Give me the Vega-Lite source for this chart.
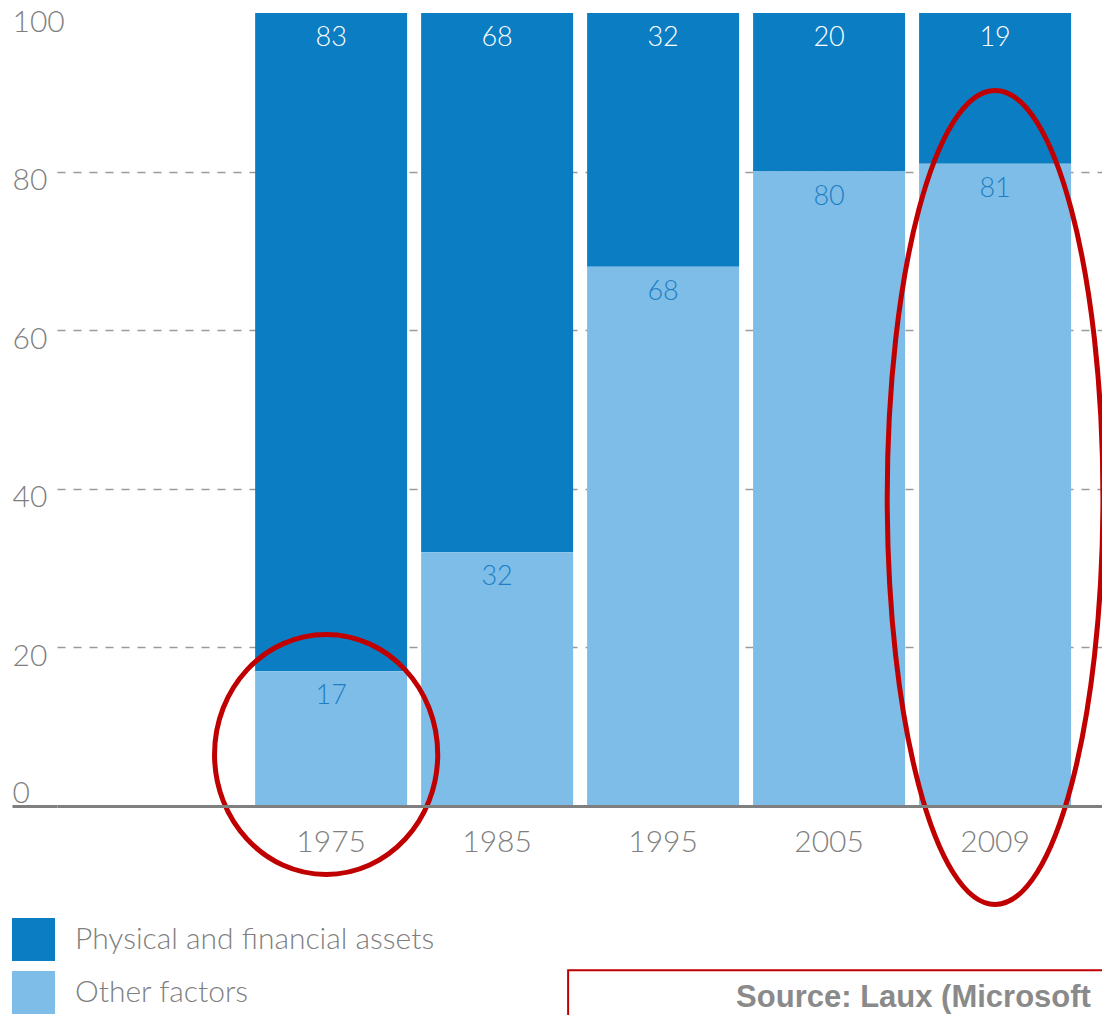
{
  "$schema": "https://vega.github.io/schema/vega-lite/v6.json",
  "autosize": {"type": "none"},
  "width": 1045,
  "height": 793,
  "padding": {"left": 57, "top": 13, "right": 0, "bottom": 209},
  "background": "white",
  "config": {
    "view": {"stroke": null},
    "font": "Lato",
    "legend": {
      "orient": "none",
      "legendX": -45,
      "legendY": 905,
      "padding": 0,
      "symbolType": "square",
      "symbolSize": 1849,
      "symbolStrokeWidth": 0,
      "labelFontSize": 30,
      "labelFont": "Lato",
      "labelFontWeight": 300,
      "labelColor": "#7f7f7f",
      "labelOffset": 20,
      "labelLimit": 0,
      "rowPadding": 10,
      "title": null
    }
  },
  "data": {
    "values": [
      {"year": "1975", "category": "Physical and financial assets", "value": 83},
      {"year": "1975", "category": "Other factors", "value": 17},
      {"year": "1985", "category": "Physical and financial assets", "value": 68},
      {"year": "1985", "category": "Other factors", "value": 32},
      {"year": "1995", "category": "Physical and financial assets", "value": 32},
      {"year": "1995", "category": "Other factors", "value": 68},
      {"year": "2005", "category": "Physical and financial assets", "value": 20},
      {"year": "2005", "category": "Other factors", "value": 80},
      {"year": "2009", "category": "Physical and financial assets", "value": 19},
      {"year": "2009", "category": "Other factors", "value": 81}
    ]
  },
  "layer": [
    {
      "mark": {"type": "bar"},
      "encoding": {
        "x": {
          "field": "year", "type": "nominal",
          "scale": {"domain": ["1975", "1985", "1995", "2005", "2009"], "paddingInner": 0.0843, "paddingOuter": 0.69, "align": 0.865},
          "axis": {
            "title": null, "orient": "bottom", "zindex": 1,
            "domain": true, "domainColor": "#7f7f7f", "domainWidth": 3,
            "ticks": false, "labelPadding": 21, "labelFontSize": 30,
            "labelFont": "Lato", "labelFontWeight": 300, "labelColor": "#7f7f7f", "labelAngle": 0
          }
        },
        "y": {
          "field": "value", "type": "quantitative", "stack": "zero",
          "scale": {"domain": [0, 100], "nice": false},
          "axis": {
            "title": null, "values": [0, 20, 40, 60, 80, 100],
            "domain": false, "zindex": 0,
            "ticks": true, "tickSize": 45, "tickWidth": 3, "tickColor": "#7f7f7f",
            "tickOpacity": {"condition": {"test": "datum.value === 0", "value": 1}, "value": 0},
            "grid": true, "gridDash": [8, 8], "gridColor": "#9a9a9a", "gridWidth": 1.5,
            "gridOpacity": {"condition": {"test": "datum.value === 0 || datum.value === 100", "value": 0}, "value": 1},
            "labelAlign": "left", "labelPadding": 0, "labelBaseline": "middle",
            "labelOffset": {"condition": {"test": "datum.value === 0", "value": -13}, "value": 9},
            "labelFontSize": 30, "labelFont": "Lato", "labelFontWeight": 300, "labelColor": "#7f7f7f"
          }
        },
        "color": {
          "field": "category", "type": "nominal",
          "scale": {"domain": ["Physical and financial assets", "Other factors"], "range": ["#0b7dc3", "#7dbde8"]}
        },
        "order": {"field": "category", "sort": "ascending"}
      }
    },
    {
      "mark": {"type": "text", "baseline": "top", "dy": 12, "fontSize": 27, "font": "Lato", "fontWeight": 300},
      "encoding": {
        "x": {"field": "year", "type": "nominal"},
        "y": {"field": "value", "type": "quantitative", "stack": "zero"},
        "order": {"field": "category", "sort": "ascending"},
        "text": {"field": "value", "type": "quantitative"},
        "color": {"condition": {"test": "datum.category === 'Other factors'", "value": "#1f7fc2"}, "value": "white"}
      }
    },
    {
      "data": {"values": [{"year": "1975", "center": 6.5}]},
      "mark": {"type": "point", "shape": "M -0.93 0 A 0.93 1 0 1 0 0.93 0 A 0.93 1 0 1 0 -0.93 0 Z", "size": 57600, "filled": false, "stroke": "#c00000", "strokeWidth": 5, "opacity": 1, "xOffset": -5},
      "encoding": {
        "x": {"field": "year", "type": "nominal"},
        "y": {"field": "center", "type": "quantitative"}
      }
    },
    {
      "data": {"values": [{"year": "2009", "center": 38.9}]},
      "mark": {"type": "point", "shape": "M -0.265 0 A 0.265 1 0 1 0 0.265 0 A 0.265 1 0 1 0 -0.265 0 Z", "size": 662596, "filled": false, "stroke": "#c00000", "strokeWidth": 5, "opacity": 1},
      "encoding": {
        "x": {"field": "year", "type": "nominal"},
        "y": {"field": "center", "type": "quantitative"}
      }
    },
    {
      "data": {"values": [{"note": "Source: Laux (Microsoft"}]},
      "mark": {"type": "rect", "fill": "white", "stroke": "#c00000", "strokeWidth": 2, "xOffset": -5, "x2Offset": 80},
      "encoding": {
        "x": {"datum": "1985", "bandPosition": 1},
        "x2": {"datum": "2009", "bandPosition": 1},
        "y": {"datum": -20.7},
        "y2": {"datum": -40}
      }
    },
    {
      "data": {"values": [{"note": "Source: Laux (Microsoft"}]},
      "mark": {"type": "text", "align": "left", "baseline": "alphabetic", "font": "Liberation Sans", "fontWeight": "bold", "fontSize": 31, "color": "#8a8a8a", "dx": -3},
      "encoding": {
        "x": {"datum": "1995", "bandPosition": 1},
        "y": {"datum": -25.4},
        "text": {"field": "note", "type": "nominal"}
      }
    }
  ]
}
